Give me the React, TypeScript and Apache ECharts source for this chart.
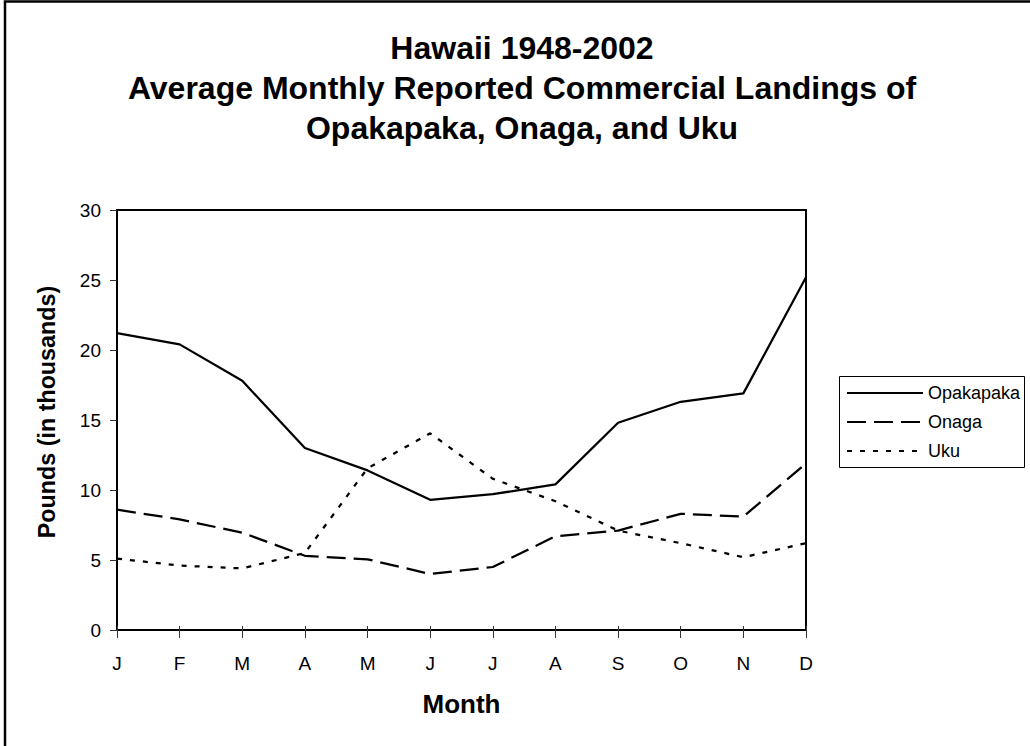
import React, { useEffect, useRef } from "react";
import * as echarts from "echarts";

const months = ["J", "F", "M", "A", "M", "J", "J", "A", "S", "O", "N", "D"];
const opakapaka = [21.2, 20.4, 17.8, 13.0, 11.4, 9.3, 9.7, 10.4, 14.8, 16.3, 16.9, 25.2];
const onaga = [8.6, 7.9, 6.95, 5.3, 5.05, 4.0, 4.5, 6.7, 7.1, 8.3, 8.1, 11.9];
const uku = [5.1, 4.6, 4.4, 5.5, 11.55, 14.05, 10.8, 9.2, 7.1, 6.2, 5.2, 6.2];
const seriesNames = ["Opakapaka", "Onaga", "Uku"];
const titleLines = ["Hawaii 1948-2002", "Average Monthly Reported Commercial Landings of", "Opakapaka, Onaga, and Uku"];

const FONT = "'Liberation Sans', Arial, sans-serif";

export default function App() {
  const ref = useRef<HTMLDivElement>(null);
  useEffect(() => {
    if (!ref.current) return;
    const chart = echarts.init(ref.current, null, { renderer: "svg" });
    const lineW = 2.25;
    chart.setOption({
      animation: false,
      backgroundColor: "#fff",
      textStyle: { fontFamily: FONT, color: "#000" },
      title: {
        text: titleLines.join("\n"),
        left: 517,
        top: 23,
        textAlign: "center",
        textStyle: { fontFamily: FONT, fontWeight: "bold", fontSize: 32, lineHeight: 40, color: "#000" },
      },
      graphic: [
        {
          type: "rect",
          shape: { x: 5, y: 1.5, width: 1200, height: 1000 },
          style: { fill: "none", stroke: "#000", lineWidth: 2.5 },
          silent: true,
        },
        {
          type: "rect",
          shape: { x: 839.5, y: 376.5, width: 185, height: 91 },
          style: { fill: "none", stroke: "#000", lineWidth: 1 },
          silent: true,
        },
      ],
      legend: {
        orient: "vertical",
        left: 846,
        top: 384,
        padding: 0,
        itemWidth: 76,
        itemHeight: 14,
        itemGap: 11,
        data: seriesNames,
        itemStyle: { opacity: 0 },
        textStyle: { fontFamily: FONT, fontSize: 18, color: "#000" },
      },
      grid: {
        left: 117,
        top: 210,
        width: 689,
        height: 420,
        show: true,
        borderColor: "#000",
        borderWidth: 2,
        backgroundColor: "transparent",
      },
      xAxis: [
        {
          type: "category",
          data: months,
          boundaryGap: false,
          position: "bottom",
          name: "Month",
          nameLocation: "middle",
          nameGap: 61,
          nameTextStyle: { fontFamily: FONT, fontWeight: "bold", fontSize: 26, color: "#000" },
          axisLine: { lineStyle: { color: "#000", width: 2 } },
          axisTick: { show: true, length: 8, alignWithLabel: true, lineStyle: { color: "#333", width: 1 } },
          axisLabel: { fontFamily: FONT, fontSize: 19, color: "#000", margin: 24 },
          splitLine: { show: false },
        },
        {
          type: "category",
          data: months,
          boundaryGap: false,
          position: "bottom",
          offset: 0,
          axisLine: { show: false },
          axisTick: { show: true, inside: true, length: 4, lineStyle: { color: "#333", width: 1 } },
          axisLabel: { show: false },
          splitLine: { show: false },
        },
      ],
      yAxis: {
        type: "value",
        min: 0,
        max: 30,
        interval: 5,
        name: "Pounds (in thousands)",
        nameLocation: "middle",
        nameGap: 59,
        nameTextStyle: { fontFamily: FONT, fontWeight: "bold", fontSize: 23.3, color: "#000", padding: [0, 0, 0, 16] },
        axisLine: { show: true, lineStyle: { color: "#000", width: 2 } },
        axisTick: { show: true, length: 7, lineStyle: { color: "#333", width: 1 } },
        axisLabel: { fontFamily: FONT, fontSize: 19, color: "#000", margin: 16 },
        splitLine: { show: false },
      },
      series: [
        {
          name: seriesNames[0],
          type: "line",
          data: opakapaka,
          symbol: "none",
          lineStyle: { color: "#000", width: lineW, type: "solid" },
          itemStyle: { color: "#000", opacity: 0 },
        },
        {
          name: seriesNames[1],
          type: "line",
          data: onaga,
          symbol: "none",
          lineStyle: { color: "#000", width: lineW, type: [19, 8] },
          itemStyle: { color: "#000", opacity: 0 },
        },
        {
          name: seriesNames[2],
          type: "line",
          data: uku,
          symbol: "none",
          lineStyle: { color: "#000", width: lineW, type: [5, 8] },
          itemStyle: { color: "#000", opacity: 0 },
        },
      ],
    });
    return () => chart.dispose();
  }, []);
  return (
    <div
      ref={ref}
      style={{ position: "fixed", left: 0, top: 0, width: 1030, height: 746, background: "#fff" }}
    />
  );
}
